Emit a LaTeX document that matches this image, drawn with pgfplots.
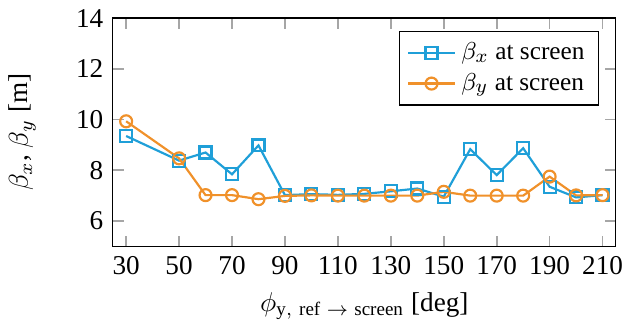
\documentclass[border=0pt]{standalone}
\usepackage{fontspec}
\setmainfont{Liberation Serif}
\usepackage{pgfplots}
\pgfplotsset{compat=1.18}
\definecolor{cblue}{HTML}{1F9FD8}
\definecolor{corange}{HTML}{F0912A}
\begin{document}
\begin{tikzpicture}
\begin{axis}[
  scale only axis,
  width=185pt, height=84pt,
  xmin=25, xmax=215, ymin=5, ymax=14,
  xtick={30,50,...,210}, ytick={6,8,...,14},
  /pgf/number format/assume math mode=true,
  tick style={gray!70, semithick},
  major tick length=4pt,
  tick align=inside,
  xlabel={$\phi_{\mathrm{y,\ ref}\;\rightarrow\;\mathrm{screen}}$ [deg]},
  ylabel={$\beta_x$, $\beta_y$ [m]},
  ylabel style={yshift=8pt},
  legend style={at={(0.966,0.943)}, anchor=north east, draw=black, fill=white, font=\fontsize{9.3}{11}\selectfont, row sep=-0.5pt},
  legend cell align=left,
  every axis plot/.append style={thick},
]
\addplot[cblue, mark=square, mark size=2.2pt, mark options={solid}] coordinates {
(30,9.35) (50,8.38) (60,8.70) (70,7.84) (80,8.98) (90,7.02) (100,7.06) (110,7.03) (120,7.07) (130,7.17) (140,7.28) (150,6.96) (160,8.83) (170,7.81) (180,8.87) (190,7.35) (200,6.93) (210,7.02)};
\addlegendentry{$\beta_x$ at screen}
\addplot[corange, mark=o, mark size=2.2pt, mark options={solid}] coordinates {
(30,9.93) (50,8.47) (60,7.02) (70,7.02) (80,6.86) (90,6.99) (100,7.01) (110,7.0) (120,7.0) (130,7.0) (140,7.0) (150,7.15) (160,7.0) (170,7.0) (180,7.0) (190,7.75) (200,7.01) (210,7.02)};
\addlegendentry{$\beta_y$ at screen}
\end{axis}
\end{tikzpicture}
\end{document}
